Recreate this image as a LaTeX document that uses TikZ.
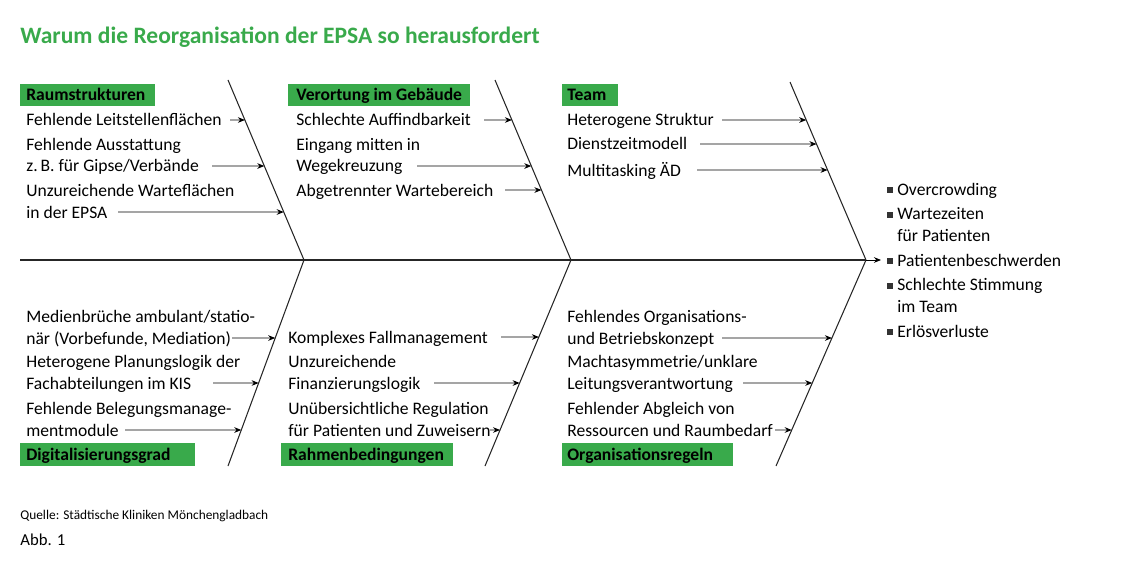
\documentclass[tikz,border=0pt]{standalone}
\usepackage{fontspec}
\setmainfont{Carlito}
\usetikzlibrary{arrows.meta}
\definecolor{epsagreen}{RGB}{57,170,75}
\tikzset{
  txt/.style={anchor=base west, inner sep=0pt, align=left, font=\fontsize{10}{12.5}\selectfont},
  catlabel/.style={anchor=base west, inner sep=0pt, font=\fontsize{10}{12}\selectfont\bfseries},
  bone/.style={line width=0.6pt, black!85},
  pfeil/.style={line width=0.5pt, -{Stealth[length=4pt,width=3.2pt]}},
  bul/.style={fill=black!80, inner sep=0pt, minimum size=3.5pt}
}
% cause: name, baseline of last line, text, arrow start x, arrow y, bone
\newcommand\cause[6]{%
  \node[txt] (#1) at (#2) {#3};
  \coordinate (#1s) at (#4,#5);
  \draw[pfeil] (#1s) -- (intersection of #1s--{#4+1,#5} and #6t--#6b);
}
\begin{document}
\begin{tikzpicture}[x=0.02cm,y=-0.02cm]
  \useasboundingbox (0,0) rectangle (1140,581);

  \node[anchor=base west, inner sep=0pt, text=epsagreen, font=\fontsize{13.4}{16}\selectfont\bfseries] (title) at (20,44)
    {Warum die Reorganisation der EPSA so herausfordert};

  % Gräten
  \coordinate (u1t) at (228,80);  \coordinate (u1b) at (304,260);
  \coordinate (u2t) at (495,80);  \coordinate (u2b) at (571,260);
  \coordinate (u3t) at (790,82);  \coordinate (u3b) at (866,260);
  \coordinate (l1t) at (304,260); \coordinate (l1b) at (228,466);
  \coordinate (l2t) at (571,260); \coordinate (l2b) at (485,466);
  \coordinate (l3t) at (866,260); \coordinate (l3b) at (776,466);
  \foreach \b in {u1,u2,u3,l1,l2,l3}
    \draw[bone] (\b t) -- (\b b);
  \coordinate (spine) at (20,260);
  \draw[bone] (spine) -- (u3b);
  \draw[pfeil] (u3b) -- (881,260);

  % Kategorien
  \fill[epsagreen] (20,84) rectangle (155,106);
  \node[catlabel] (raum) at (26,101) {Raumstrukturen};
  \fill[epsagreen] (288,84) rectangle (470,106);
  \node[catlabel] (ort) at (296,101) {Verortung im Gebäude};
  \fill[epsagreen] (562,84) rectangle (618,106);
  \node[catlabel] (team) at (567,101) {Team};
  \fill[epsagreen] (20,443) rectangle (195,466);
  \node[catlabel] (digi) at (26,460) {Digitalisierungsgrad};
  \fill[epsagreen] (281,443) rectangle (453,466);
  \node[catlabel] (rahmen) at (288,460) {Rahmenbedingungen};
  \fill[epsagreen] (562,443) rectangle (733,466);
  \node[catlabel] (org) at (567,460) {Organisationsregeln};

  % Ursachen oben
  \cause{ra}{26,126}{Fehlende Leitstellenflächen}{230}{120}{u1}
  \cause{rb}{26,172}{Fehlende Ausstattung\\z.\,B. für Gipse/Verbände}{212}{166}{u1}
  \cause{rc}{26,218}{Unzureichende Warteflächen\\in der EPSA}{118}{212}{u1}
  \cause{va}{296,126}{Schlechte Auffindbarkeit}{484}{120}{u2}
  \cause{vb}{296,172}{Eingang mitten in\\Wegekreuzung}{417}{166}{u2}
  \cause{vc}{296,196}{Abgetrennter Wartebereich}{505}{190}{u2}
  \cause{ta}{567,126}{Heterogene Struktur}{722}{120}{u3}
  \cause{tb}{567,150}{Dienstzeitmodell}{700}{144}{u3}
  \cause{tc}{567,176}{Multitasking ÄD}{697}{170}{u3}

  % Ursachen unten
  \cause{da}{26,344}{Medienbrüche ambulant/statio-\\när (Vorbefunde, Mediation)}{232}{338}{l1}
  \cause{db}{26,389}{Heterogene Planungslogik der\\Fachabteilungen im KIS}{213}{383}{l1}
  \cause{dc}{26,436}{Fehlende Belegungsmanage-\\mentmodule}{125}{430}{l1}
  \cause{fa}{288,343}{Komplexes Fallmanagement}{501}{337}{l2}
  \cause{fb}{288,389}{Unzureichende\\Finanzierungslogik}{434}{383}{l2}
  \cause{fc}{288,436}{Unübersichtliche Regulation\\für Patienten und Zuweisern}{490}{430}{l2}
  \cause{oa}{567,344}{Fehlendes Organisations-\\und Betriebskonzept}{722}{338}{l3}
  \cause{ob}{567,389}{Machtasymmetrie/unklare\\Leitungsverantwortung}{743}{383}{l3}
  \cause{oc}{567,436}{Fehlender Abgleich von\\Ressourcen und Raumbedarf}{775}{430}{l3}

  % Folgen
  \foreach \y/\z/\t [count=\i] in {195/195/Overcrowding, 220/241/{Wartezeiten\\für Patienten},
      266/266/Patientenbeschwerden, 291/312/{Schlechte Stimmung\\im Team}, 337/337/Erlösverluste} {
    \node[bul] (q\i) at (890,\y-5) {};
    \node[txt] (f\i) at (897,\z) {\t};
  }

  \node[anchor=base west, inner sep=0pt, font=\fontsize{7.6}{9}\selectfont] (quelle) at (20,519)
    {Quelle: Städtische Kliniken Mönchengladbach};
  \node[anchor=base west, inner sep=0pt, font=\fontsize{9.5}{11}\selectfont] (abb) at (20,545) {Abb. 1};
\end{tikzpicture}
\end{document}
